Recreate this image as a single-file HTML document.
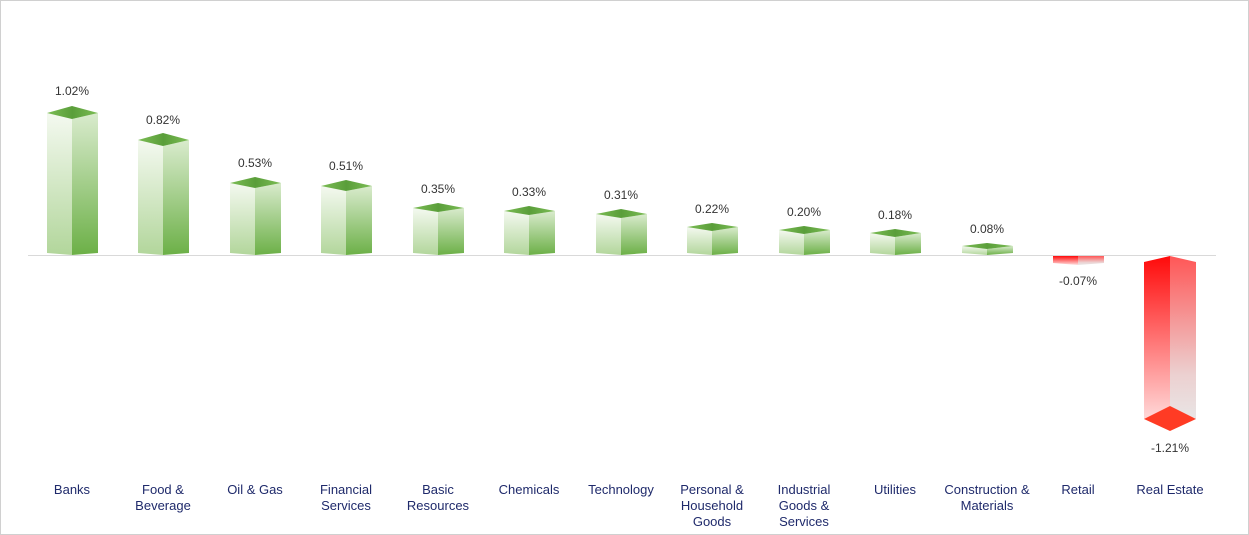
<!DOCTYPE html>
<html><head><meta charset="utf-8"><style>
body{margin:0;background:#fff;}
svg{display:block;font-family:"Liberation Sans",sans-serif;}
</style></head><body>
<svg width="1249" height="535" viewBox="0 0 1249 535">
<defs>
<linearGradient id="gl" x1="0" y1="0" x2="0" y2="1"><stop offset="0" stop-color="#f4f9f0"/><stop offset="1" stop-color="#b2d69b"/></linearGradient>
<linearGradient id="gr" x1="0" y1="0" x2="0" y2="1"><stop offset="0" stop-color="#d9ebcd"/><stop offset="1" stop-color="#6cb047"/></linearGradient>
<linearGradient id="gt" x1="0" y1="0" x2="1" y2="0"><stop offset="0" stop-color="#7cbd55"/><stop offset="0.5" stop-color="#5a9e3a"/><stop offset="1" stop-color="#7cbd55"/></linearGradient>
<linearGradient id="rl" x1="0" y1="0" x2="0" y2="1"><stop offset="0" stop-color="#ff0a0a"/><stop offset="1" stop-color="#ffe0e0"/></linearGradient>
<linearGradient id="rr" x1="0" y1="0" x2="0" y2="1"><stop offset="0" stop-color="#ff5656"/><stop offset="0.7" stop-color="#ecd0d0"/><stop offset="1" stop-color="#e8e8e8"/></linearGradient>
</defs>
<rect x="0.5" y="0.5" width="1248" height="534" fill="#fff" stroke="#d0d0d0"/>
<line x1="28" y1="255.5" x2="1216" y2="255.5" stroke="#d9d9d9"/>
<g id="bars"></g>
<g fill="#333" font-size="12" text-anchor="middle">
<text x="72" y="95">1.02%</text><text x="163" y="124">0.82%</text><text x="255" y="167">0.53%</text><text x="346" y="170">0.51%</text><text x="438" y="193">0.35%</text><text x="529" y="196">0.33%</text><text x="621" y="199">0.31%</text><text x="712" y="213">0.22%</text><text x="804" y="216">0.20%</text><text x="895" y="219">0.18%</text><text x="987" y="233">0.08%</text><text x="1078" y="285">-0.07%</text><text x="1170" y="452">-1.21%</text>
</g>
<g fill="#1f2a6b" font-size="13" text-anchor="middle">
<text x="72" y="494">Banks</text>
<text x="163" y="494">Food &amp;</text><text x="163" y="510">Beverage</text>
<text x="255" y="494">Oil &amp; Gas</text>
<text x="346" y="494">Financial</text><text x="346" y="510">Services</text>
<text x="438" y="494">Basic</text><text x="438" y="510">Resources</text>
<text x="529" y="494">Chemicals</text>
<text x="621" y="494">Technology</text>
<text x="712" y="494">Personal &amp;</text><text x="712" y="510">Household</text><text x="712" y="526">Goods</text>
<text x="804" y="494">Industrial</text><text x="804" y="510">Goods &amp;</text><text x="804" y="526">Services</text>
<text x="895" y="494">Utilities</text>
<text x="987" y="494">Construction &amp;</text><text x="987" y="510">Materials</text>
<text x="1078" y="494">Retail</text>
<text x="1170" y="494">Real Estate</text>
</g>
<!-- positive bars -->
<g>
<script>/* static */</script>
</g>
<g id="pb">
<!-- generated manually below -->
</g>
<g>
<!-- Banks yf=119 -->
<polygon points="47,113 72,119 72,255 47,253" fill="url(#gl)"/><polygon points="72,119 98,113 98,253 72,255" fill="url(#gr)"/><polygon points="47,113 72,106 98,113 72,119" fill="url(#gt)"/>
<polygon points="138,140 163,146 163,255 138,253" fill="url(#gl)"/><polygon points="163,146 189,140 189,253 163,255" fill="url(#gr)"/><polygon points="138,140 163,133 189,140 163,146" fill="url(#gt)"/>
<polygon points="230,183 255,188 255,255 230,253" fill="url(#gl)"/><polygon points="255,188 281,183 281,253 255,255" fill="url(#gr)"/><polygon points="230,183 255,177 281,183 255,188" fill="url(#gt)"/>
<polygon points="321,186 346,191 346,255 321,253" fill="url(#gl)"/><polygon points="346,191 372,186 372,253 346,255" fill="url(#gr)"/><polygon points="321,186 346,180 372,186 346,191" fill="url(#gt)"/>
<polygon points="413,208 438,212 438,255 413,253" fill="url(#gl)"/><polygon points="438,212 464,208 464,253 438,255" fill="url(#gr)"/><polygon points="413,208 438,203 464,208 438,212" fill="url(#gt)"/>
<polygon points="504,211 529,215 529,255 504,253" fill="url(#gl)"/><polygon points="529,215 555,211 555,253 529,255" fill="url(#gr)"/><polygon points="504,211 529,206 555,211 529,215" fill="url(#gt)"/>
<polygon points="596,214 621,218 621,255 596,253" fill="url(#gl)"/><polygon points="621,218 647,214 647,253 621,255" fill="url(#gr)"/><polygon points="596,214 621,209 647,214 621,218" fill="url(#gt)"/>
<polygon points="687,227 712,231 712,255 687,253" fill="url(#gl)"/><polygon points="712,231 738,227 738,253 712,255" fill="url(#gr)"/><polygon points="687,227 712,223 738,227 712,231" fill="url(#gt)"/>
<polygon points="779,230 804,234 804,255 779,253" fill="url(#gl)"/><polygon points="804,234 830,230 830,253 804,255" fill="url(#gr)"/><polygon points="779,230 804,226 830,230 804,234" fill="url(#gt)"/>
<polygon points="870,233 895,237 895,255 870,253" fill="url(#gl)"/><polygon points="895,237 921,233 921,253 895,255" fill="url(#gr)"/><polygon points="870,233 895,229 921,233 895,237" fill="url(#gt)"/>
<polygon points="962,246 987,249 987,255 962,253" fill="url(#gl)"/><polygon points="987,249 1013,246 1013,253 987,255" fill="url(#gr)"/><polygon points="962,246 987,243 1013,246 987,249" fill="url(#gt)"/>
<!-- Retail -->
<polygon points="1053,256 1078,256 1078,265 1053,263" fill="url(#rl)"/><polygon points="1078,256 1104,256 1104,263 1078,265" fill="url(#rr)"/>
<!-- Real Estate -->
<polygon points="1144,262 1170,256 1170,425 1144,419" fill="url(#rl)"/><polygon points="1170,256 1196,262 1196,419 1170,425" fill="url(#rr)"/>
<polygon points="1144,419 1170,406 1196,419 1170,431" fill="#ff3b24"/>
</g>
</svg>
</body></html>
